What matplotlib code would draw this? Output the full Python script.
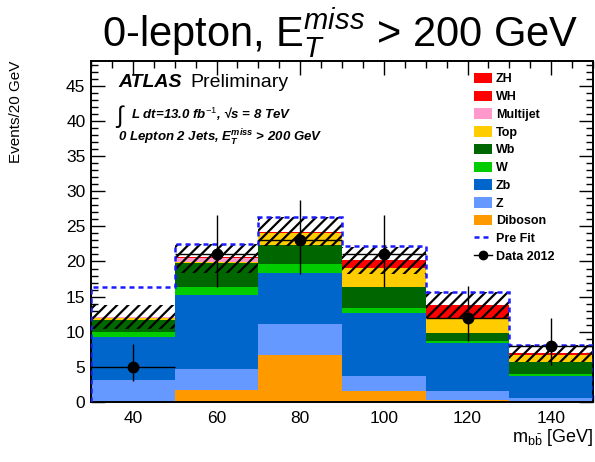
import matplotlib
matplotlib.use("Agg")
import numpy as np
import matplotlib.pyplot as plt
from matplotlib.patches import Patch
from matplotlib.lines import Line2D
from matplotlib.ticker import MultipleLocator

plt.rcParams['font.family'] = ['Liberation Sans', 'DejaVu Sans']
plt.rcParams['mathtext.fontset'] = 'custom'
plt.rcParams['mathtext.rm'] = 'Liberation Sans'
plt.rcParams['mathtext.it'] = 'Liberation Sans:italic'
plt.rcParams['mathtext.bf'] = 'Liberation Sans:style=italic:weight=bold'
plt.rcParams['hatch.linewidth'] = 1.6

# m_bb binning (GeV)
bin_edges = [30, 50, 70, 90, 110, 130, 150]
bin_centers = [40, 60, 80, 100, 120, 140]

# post-fit background and signal yields per bin
diboson = [0.0, 1.6, 6.7, 1.55, 0.25, 0.05]
z_light = [3.1, 3.05, 4.35, 2.05, 1.25, 0.45]
zb = [6.2, 10.55, 7.25, 9.0, 6.9, 3.2]
w_light = [0.7, 1.2, 1.4, 0.8, 0.3, 0.2]
wb = [1.7, 3.4, 2.6, 3.0, 1.05, 1.8]
top = [0.3, 0.15, 1.7, 2.65, 2.15, 1.0]
multijet = [0.05, 0.6, 0.0, 0.0, 0.0, 0.0]
wh = [0.05, 0.1, 0.1, 0.6, 1.0, 0.1]
zh = [0.05, 0.05, 0.1, 0.6, 0.9, 0.1]

# uncertainty band on the total prediction
unc_up = [1.65, 1.8, 2.2, 1.85, 1.8, 1.2]
unc_down = [1.85, 2.4, 2.0, 2.05, 1.9, 1.2]

# pre-fit total prediction
pre_fit = [16.3, 22.5, 26.4, 22.2, 15.6, 8.1]

# observed data with asymmetric Poisson errors
data = [5, 21, 23, 21, 12, 8]
data_err_lo = [2.1, 4.6, 4.8, 4.7, 3.4, 2.7]
data_err_hi = [3.2, 5.6, 5.8, 5.7, 4.5, 3.9]

components = [
    ("Diboson", diboson, "#ff9900"),
    ("Z", z_light, "#6699ff"),
    ("Zb", zb, "#0066cc"),
    ("W", w_light, "#00cc00"),
    ("Wb", wb, "#006600"),
    ("Top", top, "#ffcc00"),
    ("Multijet", multijet, "#ff99cc"),
    ("WH", wh, "#ff0000"),
    ("ZH", zh, "#ff0000"),
]

W, H = 595, 462
fig = plt.figure(figsize=(W / 100, H / 100), dpi=100)
ax_l, ax_r, ax_t, ax_b = 91, 593, 61, 401.7
ax = fig.add_axes([ax_l / W, 1 - ax_b / H, (ax_r - ax_l) / W, (ax_b - ax_t) / H])

width = bin_edges[1] - bin_edges[0]
bottom = np.zeros(len(bin_centers))
for name, vals, col in components:
    ax.bar(bin_centers, vals, width=width, bottom=bottom, color=col,
           linewidth=0, zorder=2)
    bottom = bottom + np.array(vals)
total = bottom

# hatched uncertainty band
up = np.array(unc_up)
dn = np.array(unc_down)
ax.bar(bin_centers, up + dn, width=width, bottom=total - dn, facecolor='none',
       edgecolor='black', hatch='///', linewidth=0, zorder=3)

# pre-fit outline
ax.stairs(pre_fit, bin_edges, baseline=0, fill=False, color='#1a1aff',
          linestyle=(0, (2, 1.6)), linewidth=1.8, zorder=4)

# data
ax.errorbar(bin_centers, data, yerr=[data_err_lo, data_err_hi], xerr=width / 2,
            fmt='o', color='black', ms=7.5, elinewidth=1.0, capsize=0, zorder=5)

ax.set_xlim(30, 150)
ax.set_ylim(0, 48.6)
ax.xaxis.set_major_locator(MultipleLocator(20))
ax.xaxis.set_minor_locator(MultipleLocator(5))
ax.yaxis.set_major_locator(MultipleLocator(5))
ax.yaxis.set_minor_locator(MultipleLocator(1))
ax.tick_params(which='both', direction='in', top=True, right=True,
               labelsize=12.5, width=1.0)
ax.tick_params(which='major', length=10)
ax.tick_params(which='minor', length=5)
ax.tick_params(axis='x', pad=7)
ax.tick_params(axis='y', pad=4)
for sp in ax.spines.values():
    sp.set_linewidth(1.4)

ax.set_ylabel('Events/20 GeV', fontsize=11, loc='top')
ax.yaxis.set_label_coords(-0.135, 1.0)
ax.set_xlabel(r'm$_{\mathrm{b\bar{b}}}$ [GeV]', fontsize=13, loc='right')
ax.xaxis.set_label_coords(1.0, -0.075)

# title
fig.text(340 / W, 1 - 46 / H, r'0-lepton, E$_T^{miss}$ > 200 GeV',
         fontsize=30, ha='center', va='baseline')

# labels inside the frame
fig.text(118 / W, 1 - 87 / H, 'ATLAS', fontsize=14, fontweight='bold',
         fontstyle='italic', va='baseline')
fig.text(190 / W, 1 - 87 / H, 'Preliminary', fontsize=14, va='baseline')
fig.text(116 / W, 1 - 123 / H, '\u222b', fontsize=17, va='baseline')
fig.text(131 / W, 1 - 119 / H, 'L dt=13.0 fb$^{-1}$, \u221as = 8 TeV',
         fontsize=9.5, fontweight='bold', fontstyle='italic', va='baseline')
fig.text(118 / W, 1 - 142 / H,
         r'0 Lepton 2 Jets, $\mathbf{E}_{\mathbf{T}}^{\mathbf{miss}}$ > 200 GeV',
         fontsize=9.5, fontweight='bold', fontstyle='italic', va='baseline')

# legend
handles = [Patch(facecolor=col, edgecolor='none', label=name)
           for name, vals, col in components[::-1]]
handles.append(Line2D([], [], color='#1a1aff', linestyle=(0, (2, 1.6)),
                      linewidth=1.8, label='Pre Fit'))
handles.append(Line2D([], [], color='black', marker='o', ms=6, linewidth=1.0,
                      label='Data 2012'))
leg = ax.legend(handles=handles, loc='upper left',
                bbox_to_anchor=((474 - ax_l) / (ax_r - ax_l), (ax_b - 73) / (ax_b - ax_t)),
                frameon=False, prop={'weight': 'bold', 'size': 9},
                handlelength=1.45, handleheight=0.9, handletextpad=0.3,
                labelspacing=0.42, borderaxespad=0, borderpad=0)

fig.savefig('out.png', dpi=100)
